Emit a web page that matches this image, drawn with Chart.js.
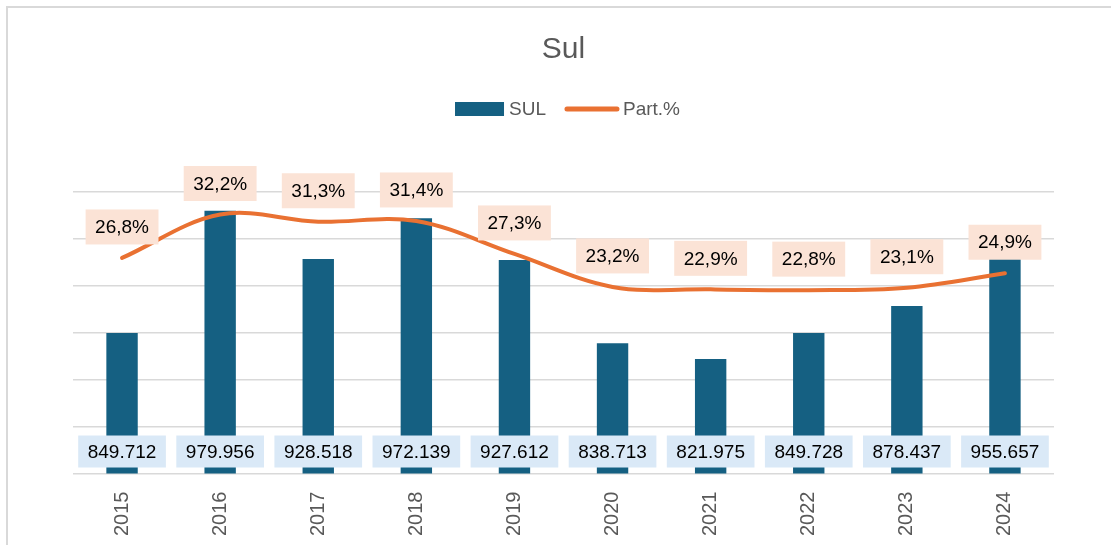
<!DOCTYPE html>
<html>
<head>
<meta charset="utf-8">
<script src="https://cdn.jsdelivr.net/npm/chart.js@4.4.1/dist/chart.umd.min.js"></script>
<style>
    html, body { margin: 0; padding: 0; background: #fff; }
    #wrap { position: relative; width: 1111px; height: 545px; overflow: hidden; }
    #frame { position: absolute; left: 6px; top: 6px; width: 1200px; height: 600px; border: 2px solid #D9D9D9; }
    #myChart { position: absolute; left: 0; top: 0; }
</style>
</head>
<body>
<div id="wrap">
    <div id="frame"></div>
    <canvas id="myChart" width="1111" height="545"></canvas>
</div>
<script>
// dados
const categories = ['2015', '2016', '2017', '2018', '2019', '2020', '2021', '2022', '2023', '2024'];
const sulValues = [849712, 979956, 928518, 972139, 927612, 838713, 821975, 849728, 878437, 955657];
const partValues = [26.8, 32.2, 31.3, 31.4, 27.3, 23.2, 22.9, 22.8, 23.1, 24.9];
const barAxisMin = 700000;
const barAxisMax = 1000000;
const barAxisStep = 50000;
const partAxisMin = 0;
const partAxisMax = 35;

const FONT = '"Liberation Sans", Arial, sans-serif';
const GREY = '#595959';

function fmtValue(v) {
    return String(v).replace(/\B(?=(\d{3})+(?!\d))/g, '.');
}
function fmtPct(v) {
    return v.toFixed(1).replace('.', ',') + '%';
}

function drawBox(ctx, text, x, y, h, fill) {
    let w = ctx.measureText(text).width + 19;
    ctx.fillStyle = fill;
    ctx.fillRect(x - w / 2, y - h / 2, w, h);
    ctx.fillStyle = '#000';
    ctx.fillText(text, x, y + 1);
}

const labelBoxes = {
    id: 'labelBoxes',
    afterDatasetsDraw(chart) {
        const ctx = chart.ctx;
        const base = chart.scales.y.getPixelForValue(barAxisMin);
        ctx.save();
        ctx.font = '19px ' + FONT;
        ctx.textAlign = 'center';
        ctx.textBaseline = 'middle';
        chart.getDatasetMeta(0).data.forEach(function (bar, i) {
            drawBox(ctx, fmtValue(sulValues[i]), bar.x, base - 22, 32, '#DAE9F7');
        });
        chart.getDatasetMeta(1).data.forEach(function (pt, i) {
            drawBox(ctx, fmtPct(partValues[i]), pt.x, pt.y - 31, 35, '#FBE3D6');
        });
        ctx.restore();
    },
    afterDraw(chart) {
        // legenda
        const ctx = chart.ctx;
        const ca = chart.chartArea;
        ctx.save();
        ctx.font = '19px ' + FONT;
        ctx.textBaseline = 'middle';
        ctx.textAlign = 'left';
        let t1 = chart.data.datasets[0].label;
        let t2 = chart.data.datasets[1].label;
        let w1 = ctx.measureText(t1).width;
        let w2 = ctx.measureText(t2).width;
        let total = 49 + 5 + w1 + 19 + 54 + 4 + w2;
        let x = (ca.left + ca.right) / 2 - total / 2 + 4;
        let y = ca.top - 83;
        ctx.fillStyle = chart.data.datasets[0].backgroundColor;
        ctx.fillRect(x, y - 7, 49, 14);
        x += 54;
        ctx.fillStyle = GREY;
        ctx.fillText(t1, x, y + 1);
        x += w1 + 19;
        ctx.strokeStyle = chart.data.datasets[1].borderColor;
        ctx.lineWidth = 5;
        ctx.lineCap = 'round';
        ctx.beginPath();
        ctx.moveTo(x + 2, y);
        ctx.lineTo(x + 52, y);
        ctx.stroke();
        x += 58;
        ctx.fillText(t2, x, y + 1);
        ctx.restore();
    }
};

const ctx = document.getElementById('myChart');

new Chart(ctx, {
    type: 'bar',
    data: {
        labels: categories,
        datasets: [{
            type: 'bar',
            label: 'SUL',
            data: sulValues,
            backgroundColor: '#156082',
            barPercentage: 0.32,
            categoryPercentage: 1,
            yAxisID: 'y',
            order: 2
        }, {
            type: 'line',
            label: 'Part.%',
            data: partValues,
            borderColor: '#E97132',
            backgroundColor: '#E97132',
            borderWidth: 4,
            borderCapStyle: 'round',
            pointRadius: 0,
            tension: 0.35,
            yAxisID: 'y1',
            order: 1
        }]
    },
    options: {
        responsive: false,
        animation: false,
        devicePixelRatio: 1,
        layout: {
            padding: { top: 8, left: 73, right: 57, bottom: -1 }
        },
        plugins: {
            legend: { display: false },
            tooltip: { enabled: false },
            title: {
                display: true,
                text: 'Sul',
                color: GREY,
                font: { family: FONT, size: 30, weight: 'normal' },
                padding: { top: 24, bottom: 124 }
            }
        },
        scales: {
            x: {
                grid: { display: false },
                border: { display: false },
                ticks: {
                    color: GREY,
                    font: { family: FONT, size: 20 },
                    minRotation: 90,
                    maxRotation: 90,
                    autoSkip: false,
                    padding: 10
                }
            },
            y: {
                min: barAxisMin,
                max: barAxisMax,
                grid: { color: '#D9D9D9', lineWidth: 1.5, drawTicks: false },
                border: { display: false },
                ticks: { display: false, stepSize: barAxisStep }
            },
            y1: {
                display: false,
                min: partAxisMin,
                max: partAxisMax,
                position: 'right'
            }
        }
    },
    plugins: [labelBoxes]
});
</script>
</body>
</html>
